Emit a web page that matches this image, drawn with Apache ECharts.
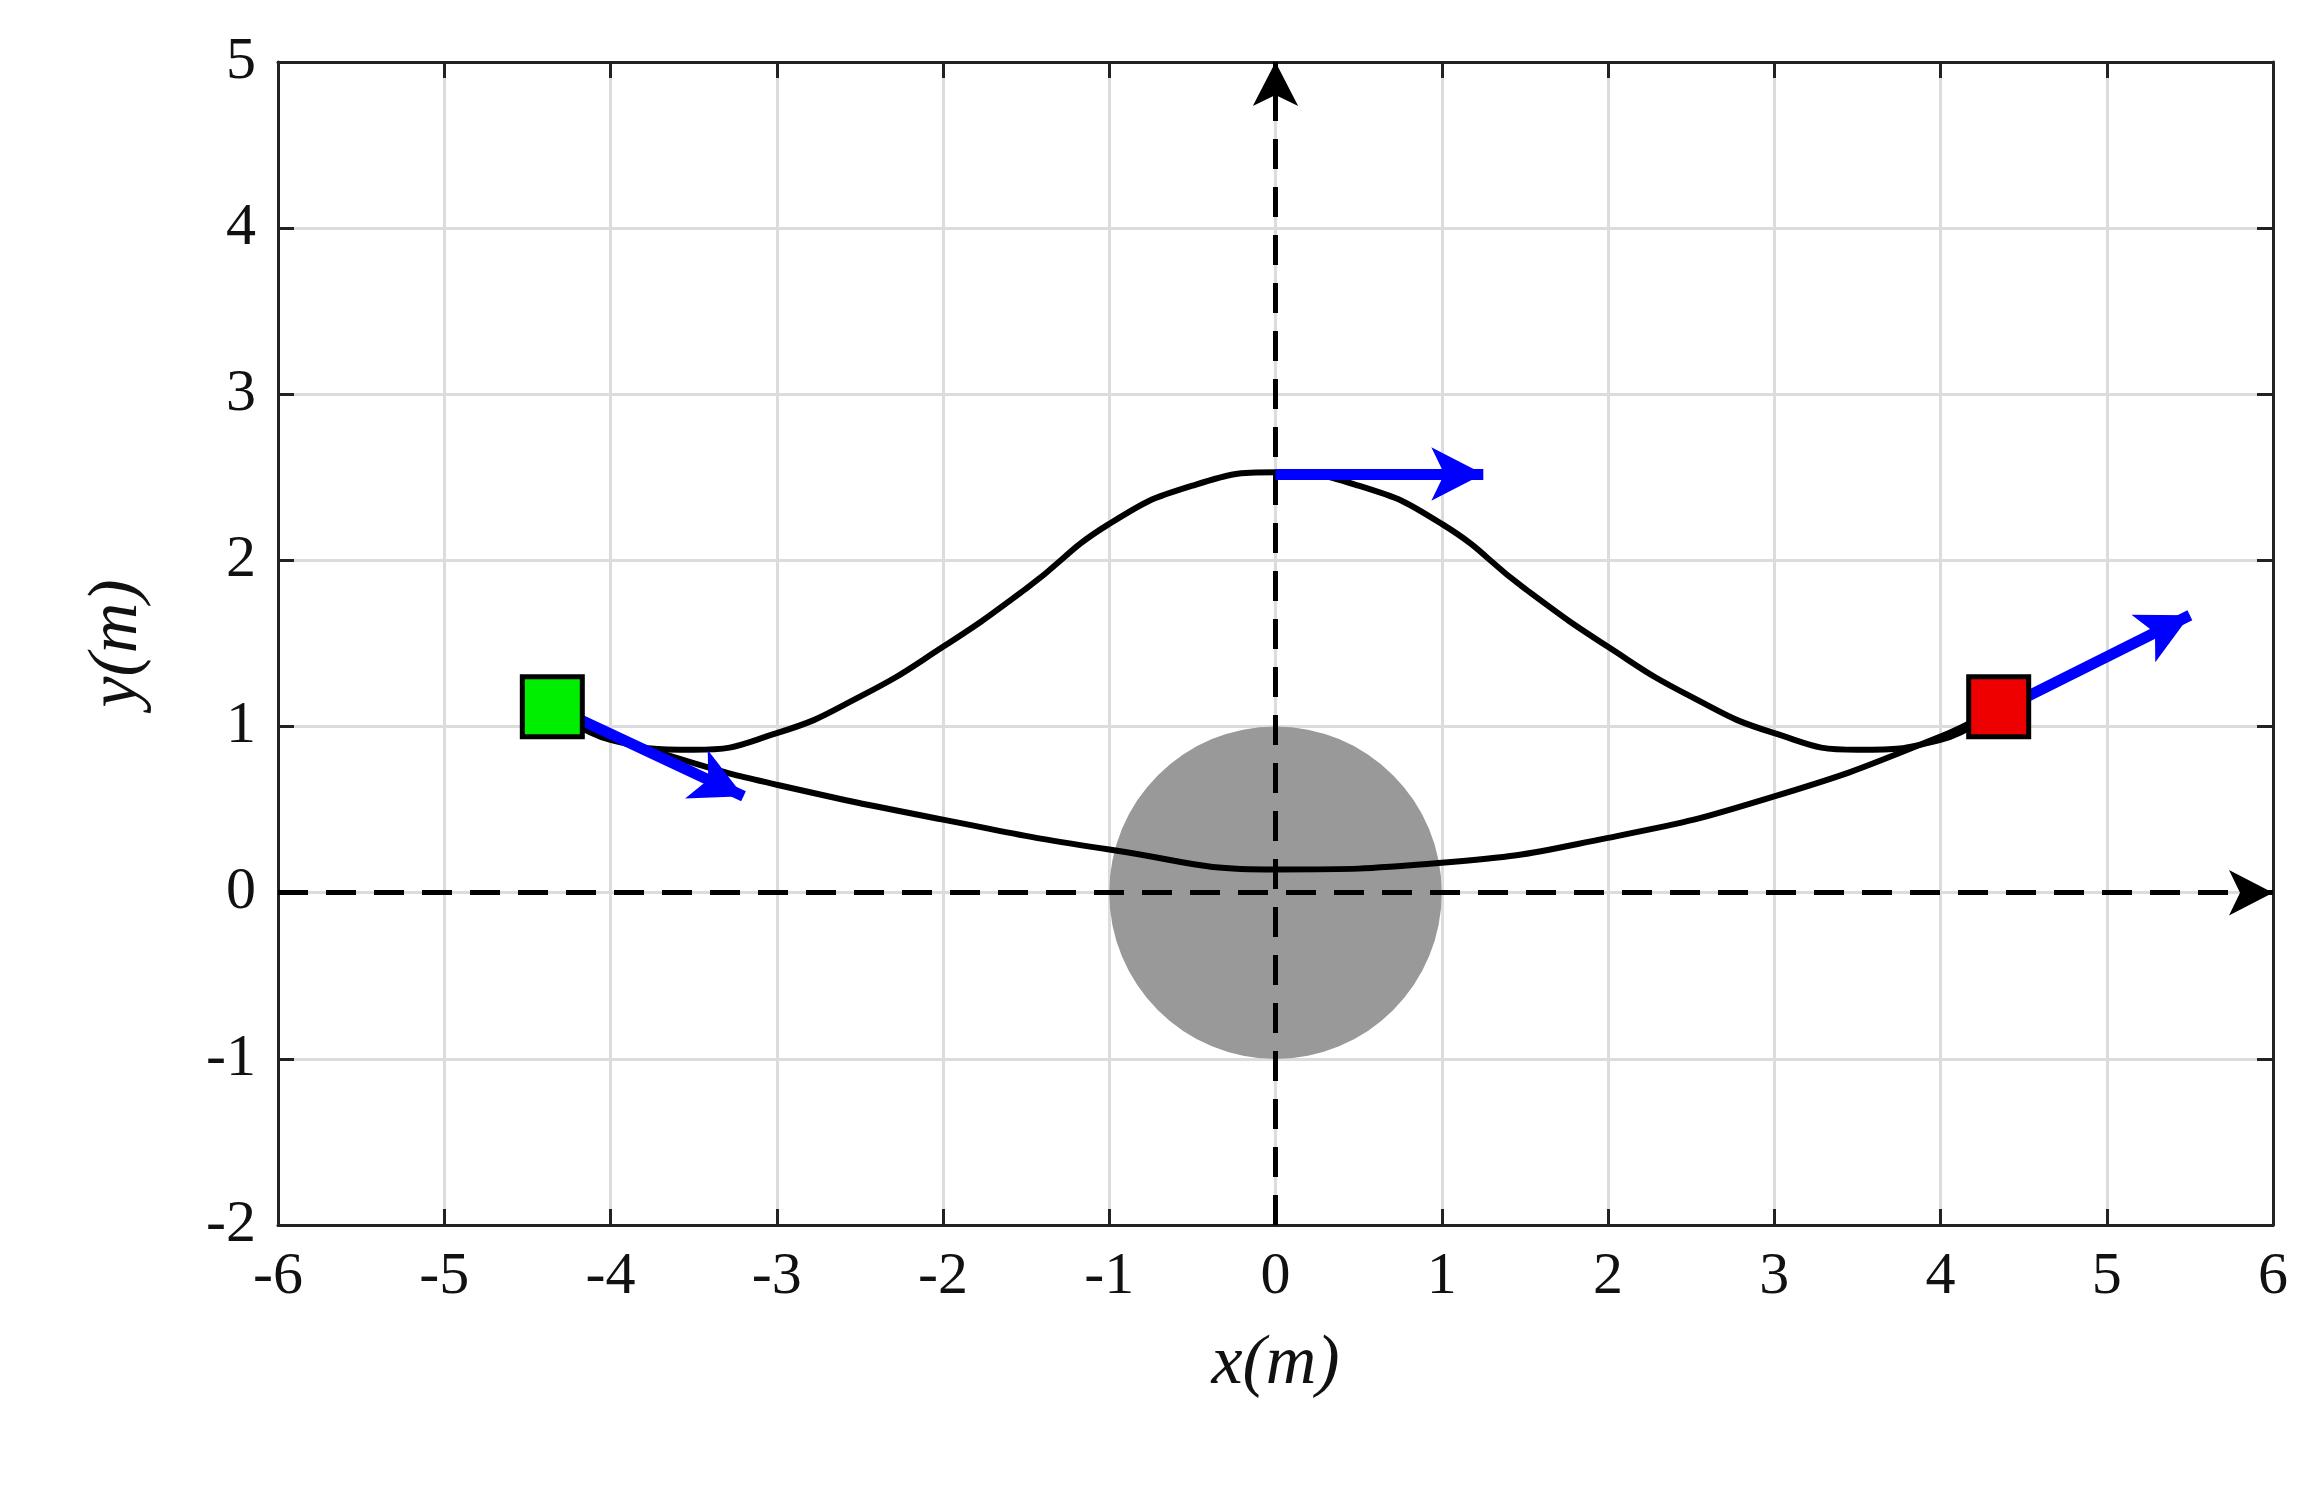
<!DOCTYPE html>
<html><head><meta charset="utf-8">
<script src="https://cdn.jsdelivr.net/npm/echarts@6/dist/echarts.min.js"></script>
<style>html,body{margin:0;background:#fff}</style>
</head><body>
<div id="main" style="width:2309px;height:1502px"></div>
<script>
// upper path (over the obstacle)
var upperX = [-4.35, -4, -3.5, -3, -2.5, -2, -1.5, -1, -0.5, 0, 0.5, 1, 1.5, 2, 2.5, 3, 3.5, 4, 4.35];
var upperY = [1.12, 0.92, 0.86, 0.96, 1.18, 1.48, 1.83, 2.22, 2.45, 2.53, 2.45, 2.22, 1.83, 1.48, 1.18, 0.96, 0.86, 0.92, 1.12];
// lower path
var lowerX = [-4.35, -3.5, -3, -2, -1, 0, 1, 2, 3, 4, 4.35];
var lowerY = [1.05, 0.78, 0.65, 0.44, 0.26, 0.14, 0.18, 0.33, 0.58, 0.94, 1.12];
// start / end boxes
var startPt = [-4.35, 1.12];
var endPt = [4.35, 1.12];
// velocity arrows [from, to]
var arrows = [
  [[-4.35, 1.12], [-3.2, 0.58]],
  [[0, 2.52], [1.25, 2.52]],
  [[4.4, 1.12], [5.5, 1.67]]
];
var obstacle = [0, 0, 1]; // cx, cy, r

function zip(xs, ys) { return xs.map(function (x, i) { return [x, ys[i]]; }); }

var font = 'Liberation Serif';
var myChart = echarts.init(document.getElementById('main'));
var axBase = {
  type: 'value',
  axisLine: { show: true, onZero: false, lineStyle: { color: '#222', width: 3 } },
  axisTick: { show: true, inside: true, length: 16, lineStyle: { color: '#222', width: 3 } }
};
myChart.setOption({
  animation: false,
  grid: { left: 278, right: 36, top: 62, bottom: 277 },
  xAxis: [
    Object.assign({}, axBase, {
      min: -6, max: 6, interval: 1, position: 'bottom',
      name: 'x(m)', nameLocation: 'middle', nameGap: 105,
      nameTextStyle: { fontFamily: font, fontStyle: 'italic', fontSize: 70, color: '#111' },
      axisLabel: { fontFamily: font, fontSize: 60, color: '#111', margin: 22 },
      splitLine: { show: true, lineStyle: { color: '#dcdcdc', width: 3 } }
    }),
    Object.assign({}, axBase, { min: -6, max: 6, interval: 1, position: 'top', axisLabel: { show: false }, splitLine: { show: false } })
  ],
  yAxis: [
    Object.assign({}, axBase, {
      min: -2, max: 5, interval: 1, position: 'left',
      name: 'y(m)', nameLocation: 'middle', nameGap: 125,
      nameTextStyle: { fontFamily: font, fontStyle: 'italic', fontSize: 70, color: '#111' },
      axisLabel: { fontFamily: font, fontSize: 60, color: '#111', margin: 22 },
      splitLine: { show: true, lineStyle: { color: '#dcdcdc', width: 3 } }
    }),
    Object.assign({}, axBase, { min: -2, max: 5, interval: 1, position: 'right', axisLabel: { show: false }, splitLine: { show: false } })
  ],
  series: [
    {
      type: 'custom', z: 1,
      data: [obstacle],
      renderItem: function (params, api) {
        var c = api.coord([api.value(0), api.value(1)]);
        var r = api.size([api.value(2), 0])[0];
        return { type: 'circle', shape: { cx: c[0], cy: c[1], r: r }, style: { fill: '#999999' } };
      }
    },
    {
      type: 'line', z: 3, silent: true, symbol: 'none', data: [],
      markLine: {
        silent: true, symbol: ['none', 'arrow'], symbolSize: [34, 44], label: { show: false },
        lineStyle: { color: '#000', width: 5, type: [30, 18] },
        data: [
          [{ coord: [-6, 0] }, { coord: [6, 0] }],
          [{ coord: [0, -2] }, { coord: [0, 5] }]
        ]
      }
    },
    { type: 'line', z: 4, smooth: true, symbol: 'none', data: zip(upperX, upperY), lineStyle: { color: '#000', width: 6 } },
    { type: 'line', z: 4, smooth: true, symbol: 'none', data: zip(lowerX, lowerY), lineStyle: { color: '#000', width: 6 } },
    {
      type: 'scatter', z: 5, symbol: 'rect', symbolSize: 60,
      data: [
        { value: startPt, itemStyle: { color: '#00ee00' } },
        { value: endPt, itemStyle: { color: '#ee0000' } }
      ],
      itemStyle: { borderColor: '#000', borderWidth: 5, opacity: 1 }
    },
    {
      type: 'line', z: 6, silent: true, symbol: 'none', data: [],
      markLine: {
        silent: true, symbol: ['none', 'arrow'], symbolSize: [40, 52], label: { show: false },
        lineStyle: { color: '#0000ff', width: 11, type: 'solid' },
        data: arrows.map(function (a) { return [{ coord: a[0] }, { coord: a[1] }]; })
      }
    }
  ]
});
</script>
</body></html>
